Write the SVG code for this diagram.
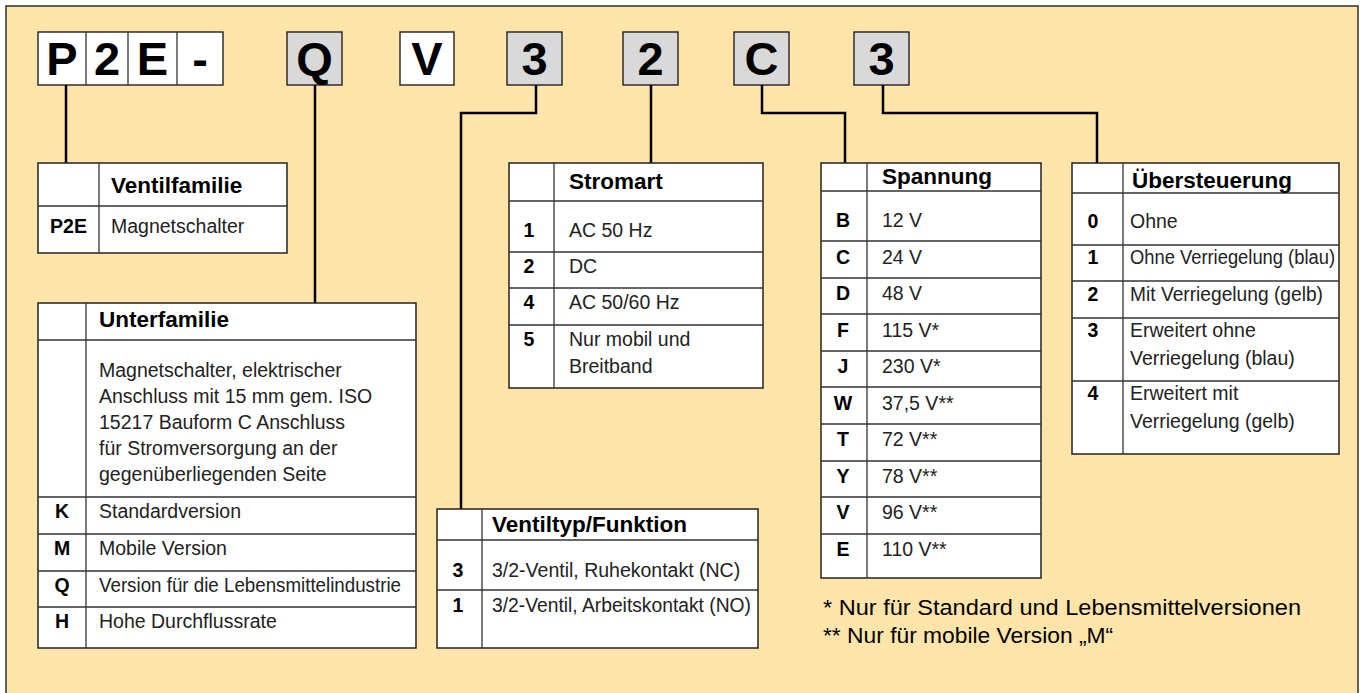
<svg xmlns="http://www.w3.org/2000/svg" width="1360" height="693" viewBox="0 0 1360 693">
<style>
.bg{fill:#FFE5A9;stroke:#3a3a3a;stroke-width:1.6}
.cw{fill:#fff;stroke:#222;stroke-width:1.4}
.cg{fill:#D9D9D9;stroke:#222;stroke-width:1.4}
.ct{font-family:"Liberation Sans",Arial,sans-serif;font-weight:bold;font-size:47px;fill:#000;text-anchor:middle}
.tb{fill:#fff;stroke:#222;stroke-width:1.5}
.ln{stroke:#333;stroke-width:1.3;fill:none}
.h{font-family:"Liberation Sans",Arial,sans-serif;font-weight:bold;font-size:22.5px;fill:#000}
.k{font-family:"Liberation Sans",Arial,sans-serif;font-weight:bold;font-size:19.5px;fill:#000;text-anchor:middle}
.t{font-family:"Liberation Sans",Arial,sans-serif;font-size:19.5px;fill:#222}
.fn{font-family:"Liberation Sans",Arial,sans-serif;font-size:22.8px;fill:#000}
.con{stroke:#000;stroke-width:2.5;fill:none}
</style>
<rect class="bg" x="6" y="6" width="1352" height="700"/>

<g id="code">
<rect class="cw" x="38" y="32" width="185" height="53"/>
<line class="ln" x1="86" y1="32" x2="86" y2="85"/>
<line class="ln" x1="128" y1="32" x2="128" y2="85"/>
<line class="ln" x1="177" y1="32" x2="177" y2="85"/>
<text class="ct" x="62" y="75">P</text>
<text class="ct" x="107" y="75">2</text>
<text class="ct" x="152.5" y="75">E</text>
<text class="ct" x="200" y="75">-</text>
<rect class="cg" x="287" y="32" width="55" height="53"/>
<text class="ct" x="314.5" y="75">Q</text>
<rect class="cw" x="400" y="32" width="54" height="53"/>
<text class="ct" x="427" y="75">V</text>
<rect class="cg" x="507" y="32" width="55" height="53"/>
<text class="ct" x="534.5" y="75">3</text>
<rect class="cg" x="623" y="32" width="55" height="53"/>
<text class="ct" x="650.5" y="75">2</text>
<rect class="cg" x="734" y="32" width="55" height="53"/>
<text class="ct" x="761.5" y="75">C</text>
<rect class="cg" x="854" y="32" width="55" height="53"/>
<text class="ct" x="881.5" y="75">3</text>
</g>

<g id="connectors">
<polyline class="con" points="66,85 66,163"/>
<polyline class="con" points="315,85 315,303"/>
<polyline class="con" points="536,85 536,113 461,113 461,509"/>
<polyline class="con" points="651,85 651,163"/>
<polyline class="con" points="762,85 762,113 845,113 845,163"/>
<polyline class="con" points="883,85 883,113 1097,113 1097,163"/>
</g>

<g id="ventilfamilie">
<rect class="tb" x="38" y="163" width="249" height="90"/>
<line class="ln" x1="99" y1="163" x2="99" y2="253"/>
<line class="ln" x1="38" y1="206" x2="287" y2="206"/>
<text class="h" x="111" y="193">Ventilfamilie</text>
<text class="k" x="68.5" y="233">P2E</text>
<text class="t" x="111" y="233">Magnetschalter</text>
</g>

<g id="unterfamilie">
<rect class="tb" x="38" y="303" width="378" height="345"/>
<line class="ln" x1="86" y1="303" x2="86" y2="648"/>
<line class="ln" x1="38" y1="340" x2="416" y2="340"/>
<line class="ln" x1="38" y1="497" x2="416" y2="497"/>
<line class="ln" x1="38" y1="534" x2="416" y2="534"/>
<line class="ln" x1="38" y1="571" x2="416" y2="571"/>
<line class="ln" x1="38" y1="607" x2="416" y2="607"/>
<text class="h" x="99" y="327">Unterfamilie</text>
<text class="t" x="99" y="377">Magnetschalter, elektrischer</text>
<text class="t" x="99" y="403">Anschluss mit 15 mm gem. ISO</text>
<text class="t" x="99" y="429">15217 Bauform C Anschluss</text>
<text class="t" x="99" y="455">für Stromversorgung an der</text>
<text class="t" x="99" y="481">gegenüberliegenden Seite</text>
<text class="k" x="62" y="518">K</text><text class="t" x="99" y="518">Standardversion</text>
<text class="k" x="62" y="555">M</text><text class="t" x="99" y="555">Mobile Version</text>
<text class="k" x="62" y="592">Q</text><text class="t" x="99" y="592" textLength="302" lengthAdjust="spacingAndGlyphs">Version für die Lebensmittelindustrie</text>
<text class="k" x="62" y="628">H</text><text class="t" x="99" y="628">Hohe Durchflussrate</text>
</g>

<g id="stromart">
<rect class="tb" x="509" y="163" width="254" height="225"/>
<line class="ln" x1="554" y1="163" x2="554" y2="388"/>
<line class="ln" x1="509" y1="201" x2="763" y2="201"/>
<line class="ln" x1="509" y1="252" x2="763" y2="252"/>
<line class="ln" x1="509" y1="288" x2="763" y2="288"/>
<line class="ln" x1="509" y1="325" x2="763" y2="325"/>
<text class="h" x="569" y="189">Stromart</text>
<text class="k" x="529" y="237">1</text><text class="t" x="569" y="237">AC 50 Hz</text>
<text class="k" x="529" y="273">2</text><text class="t" x="569" y="273">DC</text>
<text class="k" x="529" y="309">4</text><text class="t" x="569" y="309">AC 50/60 Hz</text>
<text class="k" x="529" y="346">5</text><text class="t" x="569" y="346">Nur mobil und</text>
<text class="t" x="569" y="373">Breitband</text>
</g>

<g id="ventiltyp">
<rect class="tb" x="437" y="509" width="321" height="139"/>
<line class="ln" x1="482" y1="509" x2="482" y2="648"/>
<line class="ln" x1="437" y1="540" x2="758" y2="540"/>
<line class="ln" x1="437" y1="590" x2="758" y2="590"/>
<text class="h" x="492" y="532">Ventiltyp/Funktion</text>
<text class="k" x="458" y="577">3</text><text class="t" x="492" y="577">3/2-Ventil, Ruhekontakt (NC)</text>
<text class="k" x="458" y="612">1</text><text class="t" x="492" y="612" textLength="259" lengthAdjust="spacingAndGlyphs">3/2-Ventil, Arbeitskontakt (NO)</text>
</g>

<g id="spannung">
<rect class="tb" x="821" y="163" width="220" height="415"/>
<line class="ln" x1="867" y1="163" x2="867" y2="578"/>
<line class="ln" x1="821" y1="191" x2="1041" y2="191"/>
<line class="ln" x1="821" y1="241" x2="1041" y2="241"/>
<line class="ln" x1="821" y1="278" x2="1041" y2="278"/>
<line class="ln" x1="821" y1="314" x2="1041" y2="314"/>
<line class="ln" x1="821" y1="351" x2="1041" y2="351"/>
<line class="ln" x1="821" y1="387" x2="1041" y2="387"/>
<line class="ln" x1="821" y1="424" x2="1041" y2="424"/>
<line class="ln" x1="821" y1="461" x2="1041" y2="461"/>
<line class="ln" x1="821" y1="497" x2="1041" y2="497"/>
<line class="ln" x1="821" y1="534" x2="1041" y2="534"/>
<text class="h" x="882" y="184">Spannung</text>
<text class="k" x="843" y="227">B</text><text class="t" x="882" y="227">12 V</text>
<text class="k" x="843" y="264">C</text><text class="t" x="882" y="264">24 V</text>
<text class="k" x="843" y="300">D</text><text class="t" x="882" y="300">48 V</text>
<text class="k" x="843" y="337">F</text><text class="t" x="882" y="337">115 V*</text>
<text class="k" x="843" y="373">J</text><text class="t" x="882" y="373">230 V*</text>
<text class="k" x="843" y="410">W</text><text class="t" x="882" y="410">37,5 V**</text>
<text class="k" x="843" y="446">T</text><text class="t" x="882" y="446">72 V**</text>
<text class="k" x="843" y="483">Y</text><text class="t" x="882" y="483">78 V**</text>
<text class="k" x="843" y="519">V</text><text class="t" x="882" y="519">96 V**</text>
<text class="k" x="843" y="556">E</text><text class="t" x="882" y="556">110 V**</text>
</g>

<g id="uebersteuerung">
<rect class="tb" x="1072" y="163" width="267" height="291"/>
<line class="ln" x1="1123" y1="163" x2="1123" y2="454"/>
<line class="ln" x1="1072" y1="193" x2="1339" y2="193"/>
<line class="ln" x1="1072" y1="245" x2="1339" y2="245"/>
<line class="ln" x1="1072" y1="281" x2="1339" y2="281"/>
<line class="ln" x1="1072" y1="318" x2="1339" y2="318"/>
<line class="ln" x1="1072" y1="381" x2="1339" y2="381"/>
<text class="h" x="1132" y="188">Übersteuerung</text>
<text class="k" x="1093" y="228">0</text><text class="t" x="1130" y="228">Ohne</text>
<text class="k" x="1093" y="264">1</text><text class="t" x="1130" y="264" textLength="205" lengthAdjust="spacingAndGlyphs">Ohne Verriegelung (blau)</text>
<text class="k" x="1093" y="301">2</text><text class="t" x="1130" y="301" textLength="193" lengthAdjust="spacingAndGlyphs">Mit Verriegelung (gelb)</text>
<text class="k" x="1093" y="337">3</text><text class="t" x="1130" y="337">Erweitert ohne</text>
<text class="t" x="1130" y="365">Verriegelung (blau)</text>
<text class="k" x="1093" y="400">4</text><text class="t" x="1130" y="400">Erweitert mit</text>
<text class="t" x="1130" y="428">Verriegelung (gelb)</text>
</g>

<g id="footnotes">
<text class="fn" x="823" y="615" textLength="478" lengthAdjust="spacingAndGlyphs">* Nur für Standard und Lebensmittelversionen</text>
<text class="fn" x="823" y="643">** Nur für mobile Version „M“</text>
</g>
</svg>
